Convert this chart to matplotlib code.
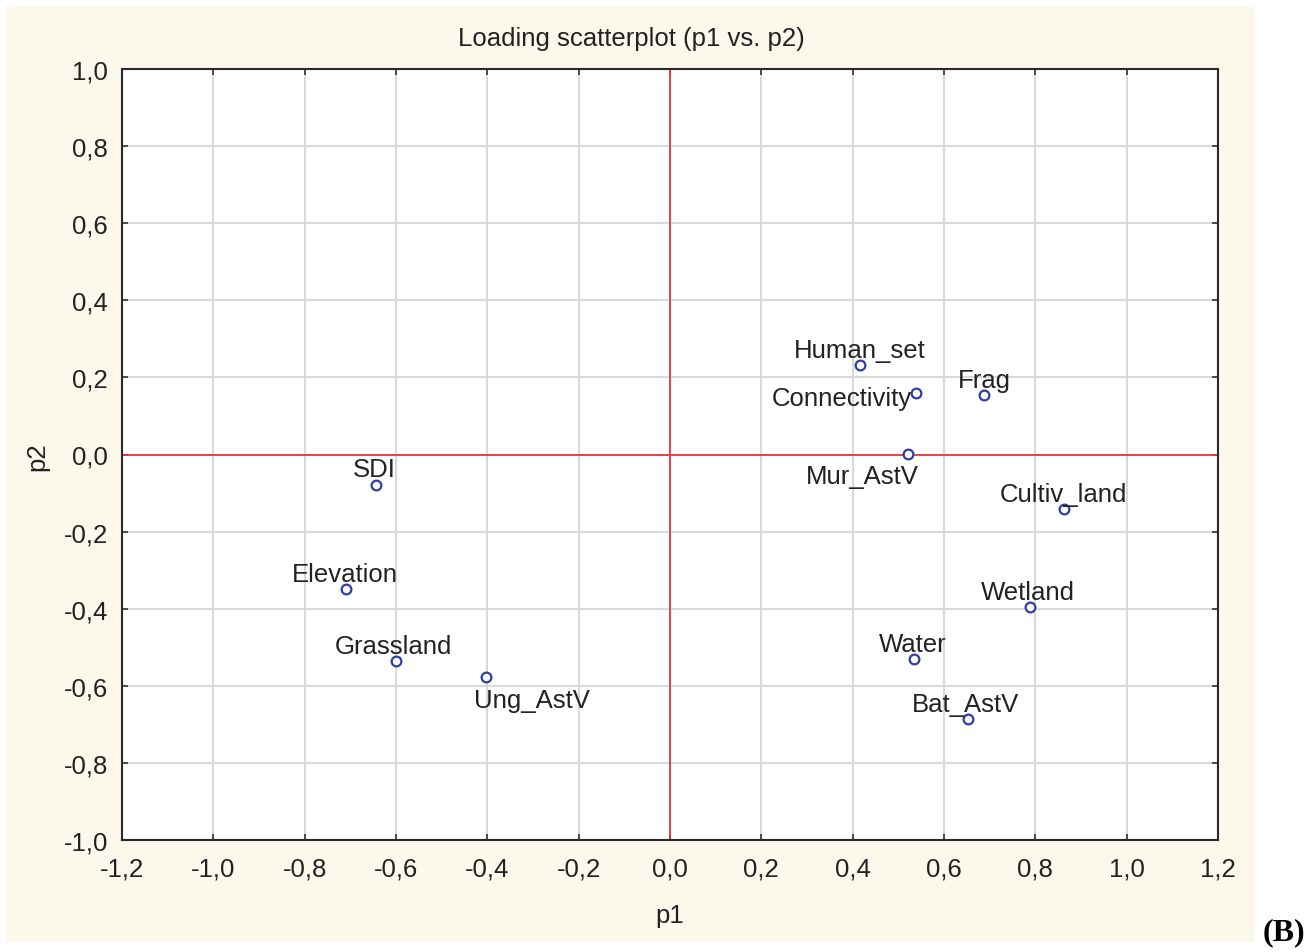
import matplotlib
matplotlib.use('Agg')
import matplotlib.pyplot as plt
from matplotlib.patches import Rectangle
from matplotlib.ticker import FuncFormatter

# loadings
names = ['Human_set', 'Connectivity', 'Frag', 'Mur_AstV', 'Cultiv_land', 'Wetland',
         'Water', 'Bat_AstV', 'SDI', 'Elevation', 'Grassland', 'Ung_AstV']
p1 = [0.416, 0.539, 0.688, 0.521, 0.863, 0.788, 0.534, 0.652, -0.644, -0.709, -0.600, -0.403]
p2 = [0.232, 0.160, 0.154, 0.001, -0.141, -0.396, -0.531, -0.686, -0.079, -0.349, -0.536, -0.577]

# label offsets in pixels and alignment
offsets = {
    'Human_set': (0, 15, 'center'), 'Connectivity': (-4, -5, 'right'),
    'Frag': (0, 15, 'center'), 'Mur_AstV': (-46, -22, 'center'),
    'Cultiv_land': (-1, 15, 'center'), 'Wetland': (-2, 15, 'center'),
    'Water': (-1, 15, 'center'), 'Bat_AstV': (-2, 15, 'center'),
    'SDI': (-2, 16, 'center'), 'Elevation': (-1, 15, 'center'),
    'Grassland': (-3, 15, 'center'), 'Ung_AstV': (46, -23, 'center'),
}

xticks = [-1.2, -1.0, -0.8, -0.6, -0.4, -0.2, 0.0, 0.2, 0.4, 0.6, 0.8, 1.0, 1.2]
yticks = [-1.0, -0.8, -0.6, -0.4, -0.2, 0.0, 0.2, 0.4, 0.6, 0.8, 1.0]

plt.rcParams['font.family'] = ['Liberation Sans', 'DejaVu Sans']
txt = '#222222'
fs = 18.5

fig = plt.figure(figsize=(13.09, 9.53), dpi=100)
fig.patch.set_facecolor('white')
bg = Rectangle((6 / 1309, 1 - 943 / 953), 1249 / 1309, 937 / 953,
               transform=fig.transFigure, facecolor='#FDF8EC', edgecolor='none', zorder=-10)
fig.add_artist(bg)

ax = fig.add_axes([122 / 1309, 1 - 841 / 953, 1096 / 1309, 771 / 953])
ax.set_facecolor('white')
ax.set_xlim(-1.2, 1.2)
ax.set_ylim(-1.0, 1.0)
ax.set_xticks(xticks)
ax.set_yticks(yticks)
fmt = FuncFormatter(lambda v, pos: ('%.1f' % v).replace('.', ',').replace('-0,0', '0,0'))
ax.xaxis.set_major_formatter(fmt)
ax.yaxis.set_major_formatter(fmt)
ax.tick_params(direction='in', length=4, width=1.2, colors='#333333',
               labelsize=fs, labelcolor=txt, top=True, right=True)
ax.tick_params(axis='x', pad=12)
ax.tick_params(axis='y', pad=10)
ax.grid(True, color='#d9d9d9', lw=1.5)
ax.set_axisbelow(True)
for s in ax.spines.values():
    s.set_color('#2a2a2a')
    s.set_linewidth(1.5)

ax.axhline(0, color='#e8383d', lw=1.3, zorder=2)
ax.axvline(0, color='#e8383d', lw=1.3, zorder=2)

ax.plot(p1, p2, 'o', mfc='white', mec='#2f3fa0', mew=1.6, ms=7, ls='none', zorder=3)
for n, x, y in zip(names, p1, p2):
    dx, dy, ha = offsets[n]
    ax.annotate(n, (x, y), xytext=(dx, dy), textcoords='offset pixels',
                ha=ha, va='center', fontsize=fs, color=txt, zorder=4)

fig.text(631 / 1309, 1 - 39 / 953, 'Loading scatterplot (p1 vs. p2)', ha='center',
         va='center', fontsize=fs, color=txt)
fig.text(670 / 1309, 1 - 916 / 953, 'p1', ha='center', va='center', fontsize=fs, color=txt)
fig.text(37 / 1309, 1 - 457 / 953, 'p2', ha='center', va='center', fontsize=fs,
         color=txt, rotation=90)
fig.text(1284 / 1309, 1 - 933 / 953, '(B)', ha='center', va='center', fontsize=23,
         fontweight='bold', family='Liberation Serif', color='black')

fig.savefig('out.png', dpi=100)
